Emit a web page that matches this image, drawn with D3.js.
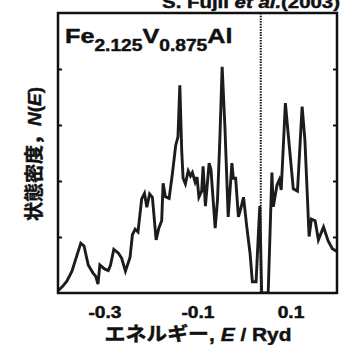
<!DOCTYPE html>
<html>
<head>
<meta charset="utf-8">
<script src="https://cdn.jsdelivr.net/npm/d3@7"></script>
<style>
  body { margin: 0; background: #fff; }
  svg { display: block; }
  text { font-family: "Liberation Sans", Arial, "Noto Sans CJK JP", sans-serif; font-weight: bold; fill: #111; stroke: #111; stroke-width: 0.45px; }
</style>
</head>
<body>
<div id="chart"></div>
<script>
// energy (Ryd) and density of states N(E)
var energy = [-0.400, -0.391, -0.381, -0.370, -0.359, -0.351, -0.344, -0.335, -0.325, -0.319,
  -0.314, -0.310, -0.300, -0.292, -0.287, -0.280, -0.270, -0.263, -0.255, -0.245,
  -0.240, -0.234, -0.228, -0.220, -0.214, -0.209, -0.203, -0.197, -0.189, -0.183,
  -0.177, -0.174, -0.169, -0.161, -0.154, -0.147, -0.142, -0.138, -0.134, -0.131,
  -0.126, -0.120, -0.115, -0.111, -0.105, -0.101, -0.097, -0.091, -0.088, -0.083,
  -0.075, -0.071, -0.062, -0.057, -0.052, -0.047, -0.041, -0.034, -0.026, -0.023,
  -0.018, -0.012, -0.006, -0.001, 0.006, 0.013, 0.018, 0.026, 0.031, 0.034,
  0.038, 0.052, 0.060, 0.063, 0.071, 0.076, 0.080, 0.089, 0.096, 0.106,
  0.115, 0.125, 0.131, 0.140, 0.145, 0.153, 0.160, 0.171, 0.181, 0.190, 0.200];
var dos = [0.04, 0.11, 0.21, 0.39, 0.68, 0.89, 0.84, 0.50, 0.36, 0.30,
  0.16, 0.50, 0.43, 0.40, 0.50, 0.78, 0.71, 0.62, 0.39, 0.64,
  1.04, 1.14, 1.09, 1.68, 1.78, 1.53, 1.77, 1.71, 0.95, 1.16,
  1.29, 1.96, 1.72, 1.69, 2.13, 2.63, 2.79, 3.71, 2.55, 2.05,
  1.95, 2.18, 2.09, 2.15, 1.98, 2.07, 1.71, 1.82, 2.26, 1.55,
  2.32, 2.20, 1.16, 1.66, 2.73, 4.04, 2.96, 1.36, 2.32, 2.05,
  2.05, 1.36, 1.54, 1.71, 1.18, 0.71, 0.20, 0.20, 1.07, 1.55,
  0.00, 0.00, 2.15, 1.54, 1.93, 2.02, 1.84, 3.39, 2.75, 1.86,
  1.82, 3.33, 2.73, 1.01, 1.32, 1.29, 0.95, 1.18, 0.93, 0.79, 0.74];
var xTicks = [-0.3, -0.1, 0.1];
var yTicks = [1, 2, 3, 4];
var fermiLevel = 0.036;

var width = 342, height = 345;
var margin = {top: 13, right: 5, bottom: 52, left: 58};
var w = width - margin.left - margin.right,
    h = height - margin.top - margin.bottom;
var stretch = 1.2;   // the original lettering is set a little wide

var svg = d3.select('#chart').append('svg')
    .attr('width', width)
    .attr('height', height);

var g = svg.append('g')
    .attr('transform', 'translate(' + margin.left + ',' + margin.top + ')');

var x = d3.scaleLinear().domain([-0.4, 0.2]).range([0, w]);
var y = d3.scaleLinear().domain([0, 5]).range([h, 0]);

var data = energy.map(function (e, i) { return {e: e, n: dos[i]}; });

g.append('clipPath').attr('id', 'clip')
  .append('rect').attr('width', w).attr('height', h);

//------------------------------------------------------------
// Fermi level
g.append('line')
    .attr('x1', x(fermiLevel)).attr('x2', x(fermiLevel))
    .attr('y1', 0).attr('y2', h)
    .attr('stroke', '#111')
    .attr('stroke-width', 2)
    .style('stroke-dasharray', '1.5,1.2');

// DOS curve
var line = d3.line()
    .x(function (d) { return x(d.e); })
    .y(function (d) { return y(d.n); });

g.append('path')
    .datum(data)
    .attr('clip-path', 'url(#clip)')
    .attr('fill', 'none')
    .attr('stroke', '#1c1c1c')
    .attr('stroke-width', 2.9)
    .attr('stroke-linejoin', 'miter')
    .attr('d', line);

//------------------------------------------------------------
// Axes: y ticks inward on both sides, x labels only
var yLeft = d3.axisRight(y).tickValues(yTicks).tickSize(4).tickFormat('');
var yRight = d3.axisLeft(y).tickValues(yTicks).tickSize(4).tickFormat('');
g.append('g').attr('class', 'axis').call(yLeft);
g.append('g').attr('class', 'axis').attr('transform', 'translate(' + w + ',0)').call(yRight);

var xAxis = d3.axisBottom(x).tickValues(xTicks).tickSize(0).tickPadding(14)
    .tickFormat(function (d) { return d.toFixed(1); });
g.append('g').attr('class', 'axis')
    .attr('transform', 'translate(0,' + h + ')')
    .call(xAxis);

g.selectAll('.axis .domain').remove();
g.selectAll('.axis line').attr('stroke', '#111').attr('stroke-width', 2);
g.selectAll('.axis text')
    .attr('transform', 'scale(' + stretch + ',1)')
    .style('font-size', '16px')
    .style('font-family', '"Liberation Sans", Arial, sans-serif')
    .style('font-weight', 'bold')
    .attr('fill', '#111');

// frame
g.append('rect')
    .attr('width', w).attr('height', h)
    .attr('fill', 'none')
    .attr('stroke', '#111')
    .attr('stroke-width', 2.5);

//------------------------------------------------------------
// Labels
var comp = g.append('text')
    .attr('transform', 'translate(7,30) scale(' + stretch + ',1)')
    .style('font-size', '21px');
comp.append('tspan').text('Fe');
comp.append('tspan').attr('dy', 8).style('font-size', '16px').text('2.125');
comp.append('tspan').attr('dy', -8).text('V');
comp.append('tspan').attr('dy', 8).style('font-size', '16px').text('0.875');
comp.append('tspan').attr('dy', -8).text('Al');

var cite = svg.append('text')
    .attr('transform', 'translate(340,8) scale(' + stretch + ',1)')
    .attr('text-anchor', 'end')
    .style('font-size', '17px');
cite.append('tspan').text('S. Fujii ');
cite.append('tspan').style('font-style', 'italic').text('et al.');
cite.append('tspan').text('(2003)');

var xl = svg.append('text')
    .attr('transform', 'translate(198,341) scale(1.1,1)')
    .attr('text-anchor', 'middle')
    .style('font-size', '19px');
xl.append('tspan').text('エネルギー, ');
xl.append('tspan').style('font-style', 'italic').text('E');
xl.append('tspan').text(' / Ryd');

var yl = svg.append('text')
    .attr('transform', 'translate(41,154) rotate(-90)')
    .attr('text-anchor', 'middle')
    .style('font-size', '19px');
yl.append('tspan').text('状態密度，');
yl.append('tspan').style('font-style', 'italic').text('N');
yl.append('tspan').text('(');
yl.append('tspan').style('font-style', 'italic').text('E');
yl.append('tspan').text(')');
</script>
</body>
</html>
